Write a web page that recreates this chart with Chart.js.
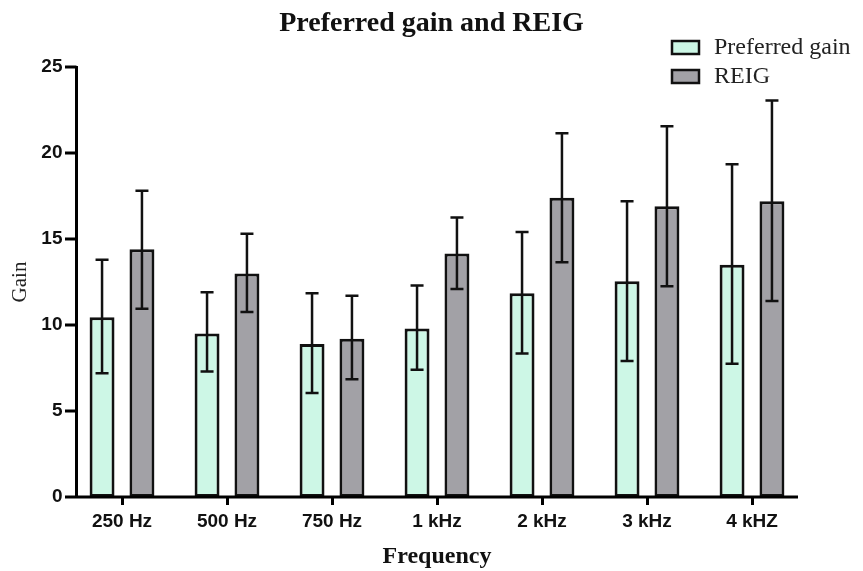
<!DOCTYPE html>
<html>
<head>
<meta charset="utf-8">
<script src="https://cdn.jsdelivr.net/npm/chart.js@4"></script>
<style>
  body { margin: 0; background: #fff; }
  #wrap { width: 863px; height: 571px; }
</style>
</head>
<body>
<div id="wrap"><canvas id="grafico" width="863" height="571"></canvas></div>
<script>
const categorias = ["250 Hz", "500 Hz", "750 Hz", "1 kHz", "2 kHz", "3 kHz", "4 kHZ"];

const preferredGain = [10.45, 9.5, 8.9, 9.8, 11.85, 12.55, 13.5];
const preferredLow = [7.2, 7.3, 6.05, 7.4, 8.35, 7.9, 7.75];
const preferredHigh = [13.8, 11.9, 11.85, 12.3, 15.4, 17.2, 19.35];

const reig = [14.4, 13.0, 9.2, 14.15, 17.4, 16.9, 17.2];
const reigLow = [10.95, 10.75, 6.85, 12.1, 13.65, 12.25, 11.4];
const reigHigh = [17.8, 15.3, 11.7, 16.25, 21.15, 21.55, 23.05];

const yTicks = [0, 5, 10, 15, 20, 25];

const erros = [
  { low: preferredLow, high: preferredHigh },
  { low: reigLow, high: reigHigh }
];

// barras de erro, eixos e legenda desenhados à mão
const extras = {
  id: "extras",
  afterDatasetsDraw(chart) {
    const ctx = chart.ctx;
    const y = chart.scales.y;
    ctx.save();
    ctx.strokeStyle = "#111";
    ctx.lineWidth = 2.5;
    chart.data.datasets.forEach((ds, d) => {
      const meta = chart.getDatasetMeta(d);
      meta.data.forEach((bar, i) => {
        const yl = y.getPixelForValue(erros[d].low[i]);
        const yh = y.getPixelForValue(erros[d].high[i]);
        ctx.beginPath();
        ctx.moveTo(bar.x, yl);
        ctx.lineTo(bar.x, yh);
        ctx.moveTo(bar.x - 6.5, yl);
        ctx.lineTo(bar.x + 6.5, yl);
        ctx.moveTo(bar.x - 6.5, yh);
        ctx.lineTo(bar.x + 6.5, yh);
        ctx.stroke();
      });
    });
    ctx.restore();
  },
  afterDraw(chart) {
    const ctx = chart.ctx;
    const y = chart.scales.y;
    const area = chart.chartArea;
    const eixoX = 76.5;
    ctx.save();
    ctx.strokeStyle = "#000";
    ctx.lineWidth = 3;
    ctx.beginPath();
    ctx.moveTo(eixoX, area.top - 1);
    ctx.lineTo(eixoX, area.bottom + 1.5);
    ctx.moveTo(eixoX - 1.5, area.bottom);
    ctx.lineTo(798, area.bottom);
    yTicks.forEach(v => {
      const py = y.getPixelForValue(v);
      ctx.moveTo(65, py);
      ctx.lineTo(eixoX, py);
    });
    ctx.stroke();

    // legenda
    const itens = chart.data.datasets;
    itens.forEach((ds, i) => {
      const top = 41 + i * 29;
      ctx.fillStyle = ds.backgroundColor;
      ctx.fillRect(672, top, 27, 13);
      ctx.lineWidth = 2.5;
      ctx.strokeStyle = "#111";
      ctx.strokeRect(672, top, 27, 13);
      ctx.fillStyle = "#222";
      ctx.font = "24px 'Liberation Serif', 'Times New Roman', serif";
      ctx.textBaseline = "middle";
      ctx.textAlign = "left";
      ctx.fillText(ds.label, 714, top + 7);
    });
    ctx.restore();
  }
};

new Chart(document.getElementById("grafico"), {
  type: "bar",
  data: {
    labels: categorias,
    datasets: [
      {
        label: "Preferred gain",
        data: preferredGain,
        backgroundColor: "#cdf7e6",
        borderColor: "#111",
        borderWidth: 3,
        borderSkipped: false,
        categoryPercentage: 0.76,
        barPercentage: 0.625
      },
      {
        label: "REIG",
        data: reig,
        backgroundColor: "#a2a1a6",
        borderColor: "#111",
        borderWidth: 3,
        borderSkipped: false,
        categoryPercentage: 0.76,
        barPercentage: 0.625
      }
    ]
  },
  options: {
    responsive: false,
    animation: false,
    devicePixelRatio: 1,
    layout: { padding: 0 },
    plugins: {
      legend: { display: false },
      tooltip: { enabled: false },
      title: {
        display: true,
        text: "Preferred gain and REIG",
        color: "#111",
        font: { family: "'Liberation Serif', 'Times New Roman', serif", size: 28, weight: "bold" },
        padding: { top: 7, bottom: 26.4 }
      }
    },
    scales: {
      x: {
        offset: true,
        border: { display: false },
        grid: {
          display: true,
          offset: false,
          drawOnChartArea: false,
          drawTicks: true,
          tickLength: 8,
          tickWidth: 3,
          tickColor: "#000"
        },
        ticks: {
          color: "#111",
          padding: 5,
          maxRotation: 0,
          font: { family: "'Liberation Sans', Arial, sans-serif", size: 19, weight: "bold" }
        },
        title: {
          display: true,
          text: "Frequency",
          color: "#111",
          padding: { top: 0, bottom: 0 },
          font: { family: "'Liberation Serif', 'Times New Roman', serif", size: 24, weight: "bold" }
        },
        afterFit: s => { s.height = 74; }
      },
      y: {
        min: 0,
        max: 25,
        border: { display: false },
        grid: { display: false, drawTicks: false },
        afterBuildTicks: s => { s.ticks = yTicks.map(v => ({ value: v })); },
        ticks: {
          color: "#111",
          padding: 7,
          font: { family: "'Liberation Sans', Arial, sans-serif", size: 19, weight: "bold" }
        },
        title: {
          display: true,
          text: "Gain",
          color: "#222",
          padding: { top: 8, bottom: 0 },
          font: { family: "'Liberation Serif', 'Times New Roman', serif", size: 21 }
        },
        afterFit: s => { s.width = 69.5; }
      },
      // eixo vazio à direita, só para reservar espaço
      yDireita: {
        type: "linear",
        position: "right",
        min: 0,
        max: 25,
        border: { display: false },
        grid: { display: false, drawTicks: false },
        ticks: { display: false },
        afterFit: s => { s.width = 58.5; }
      }
    }
  },
  plugins: [extras]
});
</script>
</body>
</html>
